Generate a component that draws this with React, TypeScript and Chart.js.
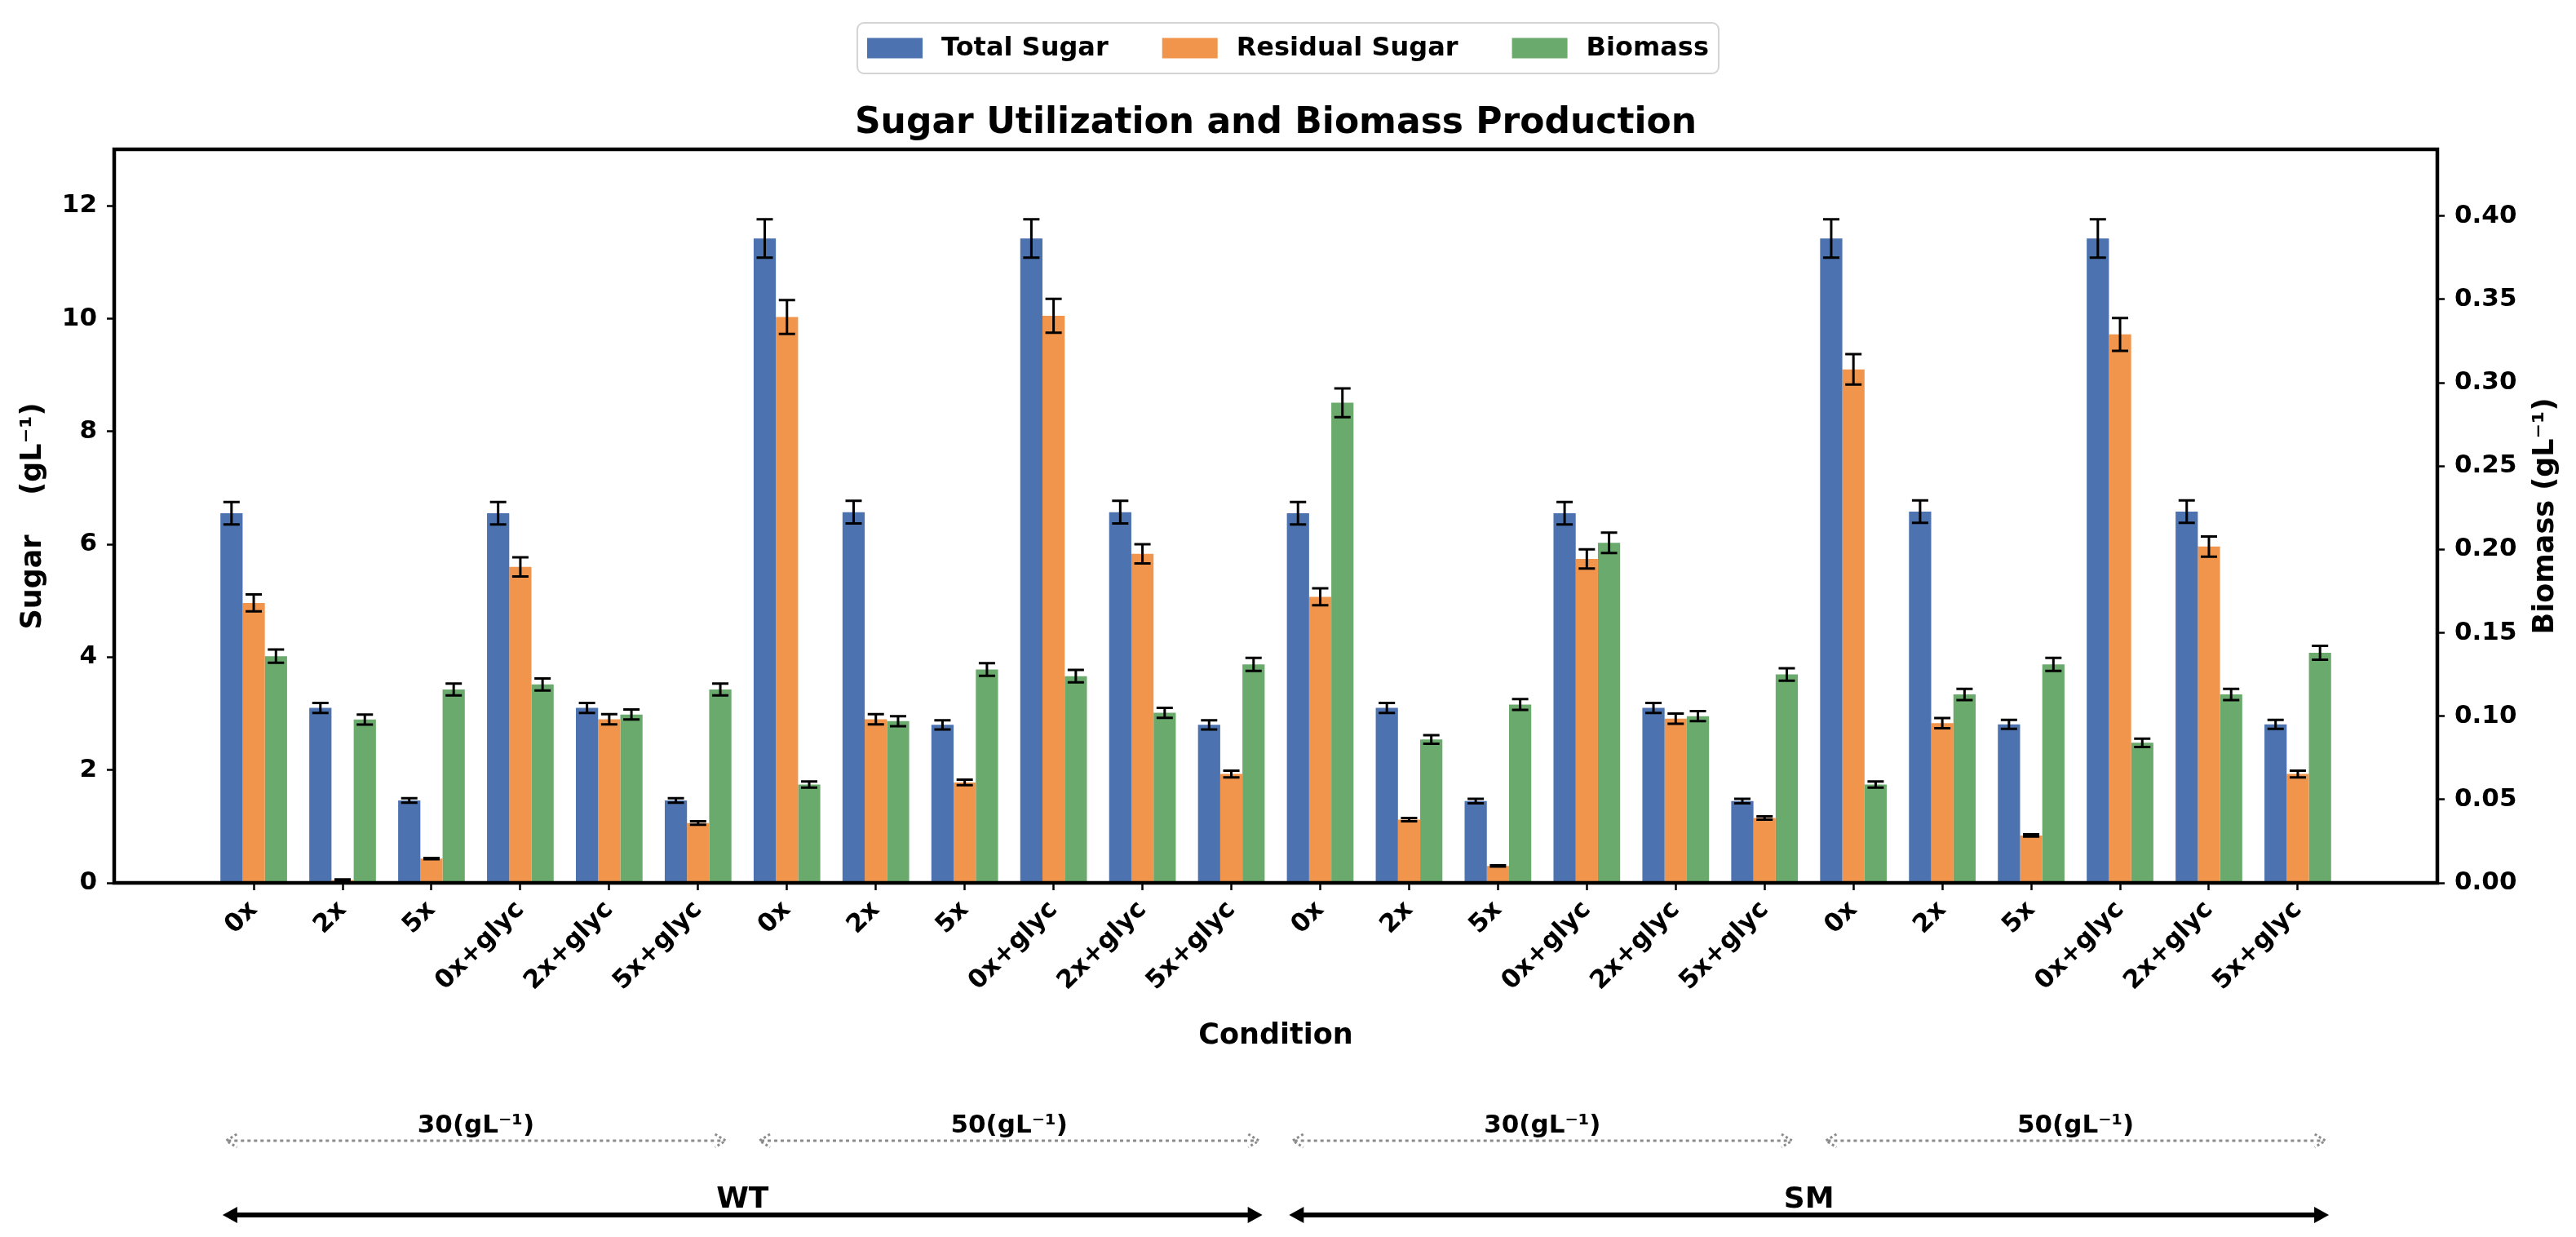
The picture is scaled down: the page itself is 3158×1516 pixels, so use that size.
import React, { useEffect, useRef } from "react";
import { Chart, registerables } from "chart.js";

Chart.register(...registerables);

const WIDTH = 3158;
const HEIGHT = 1516;
const FONT_FAMILY = "'DejaVu Sans', 'Noto Sans', sans-serif";

// ---------------- data ----------------
const categories = [
  "0x", "2x", "5x", "0x+glyc", "2x+glyc", "5x+glyc",
  "0x", "2x", "5x", "0x+glyc", "2x+glyc", "5x+glyc",
  "0x", "2x", "5x", "0x+glyc", "2x+glyc", "5x+glyc",
  "0x", "2x", "5x", "0x+glyc", "2x+glyc", "5x+glyc",
];

const totalSugar = [
  6.55, 3.1, 1.46, 6.55, 3.1, 1.46,
  11.42, 6.57, 2.8, 11.42, 6.57, 2.8,
  6.55, 3.1, 1.45, 6.55, 3.1, 1.45,
  11.42, 6.58, 2.81, 11.42, 6.58, 2.81,
];
const totalSugarErr = [
  0.2, 0.09, 0.04, 0.2, 0.09, 0.04,
  0.34, 0.2, 0.08, 0.34, 0.2, 0.08,
  0.2, 0.09, 0.04, 0.2, 0.09, 0.04,
  0.34, 0.2, 0.08, 0.34, 0.2, 0.08,
];

const residualSugar = [
  4.96, 0.05, 0.43, 5.6, 2.9, 1.06,
  10.03, 2.9, 1.78, 10.05, 5.83, 1.93,
  5.07, 1.12, 0.3, 5.74, 2.91, 1.15,
  9.1, 2.83, 0.84, 9.72, 5.96, 1.93,
];
const residualSugarErr = [
  0.15, 0.01, 0.01, 0.17, 0.09, 0.03,
  0.3, 0.09, 0.05, 0.3, 0.17, 0.06,
  0.15, 0.03, 0.01, 0.17, 0.09, 0.03,
  0.27, 0.09, 0.02, 0.29, 0.18, 0.06,
];

const biomass = [
  0.136, 0.098, 0.116, 0.119, 0.101, 0.116,
  0.059, 0.097, 0.128, 0.124, 0.102, 0.131,
  0.288, 0.086, 0.107, 0.204, 0.1, 0.125,
  0.059, 0.113, 0.131, 0.084, 0.113, 0.138,
];
const biomassErr = [
  0.004, 0.003, 0.0035, 0.0036, 0.003, 0.0035,
  0.0018, 0.003, 0.0038, 0.0037, 0.003, 0.0039,
  0.0086, 0.0026, 0.0032, 0.0061, 0.003, 0.0037,
  0.0018, 0.0034, 0.0039, 0.0025, 0.0034, 0.0042,
];

const sugarTicks = [0, 2, 4, 6, 8, 10, 12];
const biomassTicks = [0, 0.05, 0.1, 0.15, 0.2, 0.25, 0.3, 0.35, 0.4];

const seriesLabels = ["Total Sugar", "Residual Sugar", "Biomass"];
const seriesColors = ["#4C72B0", "#F0954B", "#6AAA6C"];

const concLabels = ["30(gL⁻¹)", "50(gL⁻¹)", "30(gL⁻¹)", "50(gL⁻¹)"];
const concStart = [0, 6, 12, 18];
const concEnd = [5, 11, 17, 23];

const strainLabels = ["WT", "SM"];
const strainStart = [0, 12];
const strainEnd = [11, 23];

// ---------------- helpers ----------------
const font = (size: number) => `bold ${size}px ${FONT_FAMILY}`;

function drawDottedArrow(ctx: CanvasRenderingContext2D, x1: number, x2: number, y: number) {
  ctx.save();
  ctx.strokeStyle = "#8c8c8c";
  ctx.lineWidth = 3;
  ctx.setLineDash([4, 4]);
  ctx.beginPath();
  ctx.moveTo(x1 + 2, y);
  ctx.lineTo(x2 - 2, y);
  ctx.stroke();
  ctx.setLineDash([3, 3]);
  ctx.beginPath();
  ctx.moveTo(x1 + 13, y - 8);
  ctx.lineTo(x1, y);
  ctx.lineTo(x1 + 13, y + 8);
  ctx.moveTo(x2 - 13, y - 8);
  ctx.lineTo(x2, y);
  ctx.lineTo(x2 - 13, y + 8);
  ctx.stroke();
  ctx.restore();
}

function drawSolidArrow(ctx: CanvasRenderingContext2D, x1: number, x2: number, y: number) {
  ctx.save();
  ctx.strokeStyle = "#000";
  ctx.fillStyle = "#000";
  ctx.lineWidth = 6;
  ctx.beginPath();
  ctx.moveTo(x1 + 12, y);
  ctx.lineTo(x2 - 12, y);
  ctx.stroke();
  ctx.beginPath();
  ctx.moveTo(x1, y);
  ctx.lineTo(x1 + 18, y - 10);
  ctx.lineTo(x1 + 18, y + 10);
  ctx.closePath();
  ctx.moveTo(x2, y);
  ctx.lineTo(x2 - 18, y - 10);
  ctx.lineTo(x2 - 18, y + 10);
  ctx.closePath();
  ctx.fill();
  ctx.restore();
}

const errorBarPlugin = {
  id: "errorBars",
  afterDatasetsDraw(chart: any) {
    const ctx: CanvasRenderingContext2D = chart.ctx;
    const CAP = 10;
    ctx.save();
    ctx.strokeStyle = "#000";
    ctx.lineWidth = 3;
    chart.data.datasets.forEach((ds: any, di: number) => {
      const meta = chart.getDatasetMeta(di);
      const yScale = chart.scales[ds.yAxisID];
      meta.data.forEach((bar: any, i: number) => {
        const v = ds.data[i].y;
        const e = ds.errors[i];
        const x = bar.x;
        const yHi = yScale.getPixelForValue(v + e);
        const yLo = yScale.getPixelForValue(v - e);
        ctx.beginPath();
        ctx.moveTo(x, yHi);
        ctx.lineTo(x, yLo);
        ctx.moveTo(x - CAP, yHi);
        ctx.lineTo(x + CAP, yHi);
        ctx.moveTo(x - CAP, yLo);
        ctx.lineTo(x + CAP, yLo);
        ctx.stroke();
      });
    });
    ctx.restore();
  },
};

const decorPlugin = {
  id: "decor",
  afterDraw(chart: any) {
    const ctx: CanvasRenderingContext2D = chart.ctx;
    const area = chart.chartArea;
    const xs = chart.scales.x;
    ctx.save();

    // frame (spines)
    ctx.strokeStyle = "#000";
    ctx.lineWidth = 4.5;
    ctx.strokeRect(area.left, area.top, area.right - area.left, area.bottom - area.top);

    // title
    ctx.fillStyle = "#000";
    ctx.font = font(44);
    ctx.textAlign = "center";
    ctx.textBaseline = "alphabetic";
    ctx.fillText("Sugar Utilization and Biomass Production", (area.left + area.right) / 2, 163);

    // legend
    ctx.font = font(32);
    const patchW = 68;
    const patchH = 25;
    const gapText = 23;
    const colGap = 66;
    const pad = 12;
    const textWs = seriesLabels.map((l) => ctx.measureText(l).width);
    let boxW = pad * 2 + colGap * (seriesLabels.length - 1);
    textWs.forEach((w) => (boxW += patchW + gapText + w));
    const boxX = WIDTH / 2 - boxW / 2;
    const boxY = 28;
    const boxH = 62;
    ctx.fillStyle = "rgba(255,255,255,0.9)";
    ctx.strokeStyle = "#d4d4d4";
    ctx.lineWidth = 2;
    ctx.beginPath();
    (ctx as any).roundRect(boxX, boxY, boxW, boxH, 8);
    ctx.fill();
    ctx.stroke();
    let cx = boxX + pad;
    const midY = boxY + boxH / 2;
    seriesLabels.forEach((l, i) => {
      ctx.fillStyle = seriesColors[i];
      ctx.fillRect(cx, midY - patchH / 2, patchW, patchH);
      cx += patchW + gapText;
      ctx.fillStyle = "#000";
      ctx.textAlign = "left";
      ctx.textBaseline = "middle";
      ctx.fillText(l, cx, midY + 1);
      cx += textWs[i] + colGap;
    });

    // right axis title (reads bottom-to-top)
    ctx.save();
    ctx.fillStyle = "#000";
    ctx.font = font(35);
    ctx.textAlign = "center";
    ctx.textBaseline = "middle";
    ctx.translate(3121, (area.top + area.bottom) / 2);
    ctx.rotate(-Math.PI / 2);
    ctx.fillText("Biomass (gL⁻¹)", 0, 0);
    ctx.restore();

    // x axis title
    ctx.fillStyle = "#000";
    ctx.font = font(35);
    ctx.textAlign = "center";
    ctx.textBaseline = "alphabetic";
    ctx.fillText("Condition", (area.left + area.right) / 2, 1279);

    // concentration group arrows
    concLabels.forEach((l, i) => {
      const x1 = xs.getPixelForValue(concStart[i] - 0.31);
      const x2 = xs.getPixelForValue(concEnd[i] + 0.31);
      drawDottedArrow(ctx, x1, x2, 1398);
      ctx.fillStyle = "#000";
      ctx.font = font(31);
      ctx.textAlign = "center";
      ctx.textBaseline = "alphabetic";
      ctx.fillText(l, (x1 + x2) / 2, 1388);
    });

    // strain arrows
    strainLabels.forEach((l, i) => {
      const x1 = xs.getPixelForValue(strainStart[i] - 0.35);
      const x2 = xs.getPixelForValue(strainEnd[i] + 0.35);
      drawSolidArrow(ctx, x1, x2, 1489);
      ctx.fillStyle = "#000";
      ctx.font = font(36);
      ctx.textAlign = "center";
      ctx.textBaseline = "alphabetic";
      ctx.fillText(l, (x1 + x2) / 2, 1480);
    });

    ctx.restore();
  },
};

export default function App() {
  const canvasRef = useRef<HTMLCanvasElement | null>(null);

  useEffect(() => {
    const canvas = canvasRef.current;
    if (!canvas) return;

    const mk = (vals: number[]) => vals.map((y, i) => ({ x: i, y }));
    const tickFont = { family: FONT_FAMILY, size: 31, weight: "bold" as const };

    const chart = new Chart(canvas, {
      type: "bar",
      data: {
        datasets: [
          {
            label: seriesLabels[0],
            data: mk(totalSugar),
            backgroundColor: seriesColors[0],
            yAxisID: "y",
            stack: "s0",
            errors: totalSugarErr,
          } as any,
          {
            label: seriesLabels[1],
            data: mk(residualSugar),
            backgroundColor: seriesColors[1],
            yAxisID: "y",
            stack: "s1",
            errors: residualSugarErr,
          } as any,
          {
            label: seriesLabels[2],
            data: mk(biomass),
            backgroundColor: seriesColors[2],
            yAxisID: "y1",
            stack: "s2",
            errors: biomassErr,
          } as any,
        ],
      },
      options: {
        responsive: false,
        maintainAspectRatio: false,
        animation: false,
        devicePixelRatio: 1,
        datasets: {
          bar: { categoryPercentage: 0.75, barPercentage: 1.0, borderWidth: 0 },
        },
        layout: { padding: { top: 183, left: 0, right: 0, bottom: 0 } },
        plugins: {
          legend: { display: false },
          title: { display: false },
          tooltip: { enabled: false },
        },
        scales: {
          x: {
            type: "linear",
            min: -1.57,
            max: 24.57,
            offset: false,
            grid: {
              display: true,
              offset: false,
              drawOnChartArea: false,
              drawTicks: true,
              tickLength: 9,
              tickColor: "#000",
              tickWidth: 2.5,
            },
            border: { display: false },
            afterBuildTicks: (scale: any) => {
              scale.ticks = categories.map((_, i) => ({ value: i }));
            },
            afterFit: (scale: any) => {
              scale.height = HEIGHT - 1082;
            },
            ticks: {
              autoSkip: false,
              maxRotation: 45,
              minRotation: 45,
              padding: 6,
              color: "#000",
              font: tickFont,
              callback: (value: any) => categories[Math.round(Number(value))] ?? "",
            },
          },
          y: {
            type: "linear",
            position: "left",
            min: 0,
            max: 13,
            grid: {
              display: true,
              drawOnChartArea: false,
              drawTicks: true,
              tickLength: 9,
              tickColor: "#000",
              tickWidth: 2.5,
            },
            border: { display: false },
            afterBuildTicks: (scale: any) => {
              scale.ticks = sugarTicks.map((v) => ({ value: v }));
            },
            afterFit: (scale: any) => {
              scale.width = 140;
            },
            ticks: {
              padding: 12,
              color: "#000",
              font: tickFont,
              callback: (value: any) => String(value),
            },
            title: {
              display: true,
              text: "Sugar    (gL⁻¹)",
              color: "#000",
              font: { family: FONT_FAMILY, size: 35, weight: "bold" },
              padding: { top: 20, bottom: 0 },
            },
          },
          y1: {
            type: "linear",
            position: "right",
            min: 0,
            max: 0.44,
            grid: {
              display: true,
              drawOnChartArea: false,
              drawTicks: true,
              tickLength: 9,
              tickColor: "#000",
              tickWidth: 2.5,
            },
            border: { display: false },
            afterBuildTicks: (scale: any) => {
              scale.ticks = biomassTicks.map((v) => ({ value: v }));
            },
            afterFit: (scale: any) => {
              scale.width = WIDTH - 2988;
            },
            ticks: {
              padding: 12,
              color: "#000",
              font: tickFont,
              callback: (value: any) => Number(value).toFixed(2),
            },
            title: { display: false },
          },
        },
      } as any,
      plugins: [errorBarPlugin, decorPlugin],
    });

    return () => {
      chart.destroy();
    };
  }, []);

  return (
    <div
      style={{
        position: "fixed",
        left: 0,
        top: 0,
        width: WIDTH,
        height: HEIGHT,
        background: "#ffffff",
      }}
    >
      <canvas
        ref={canvasRef}
        width={WIDTH}
        height={HEIGHT}
        style={{ display: "block", width: WIDTH, height: HEIGHT }}
      />
    </div>
  );
}
